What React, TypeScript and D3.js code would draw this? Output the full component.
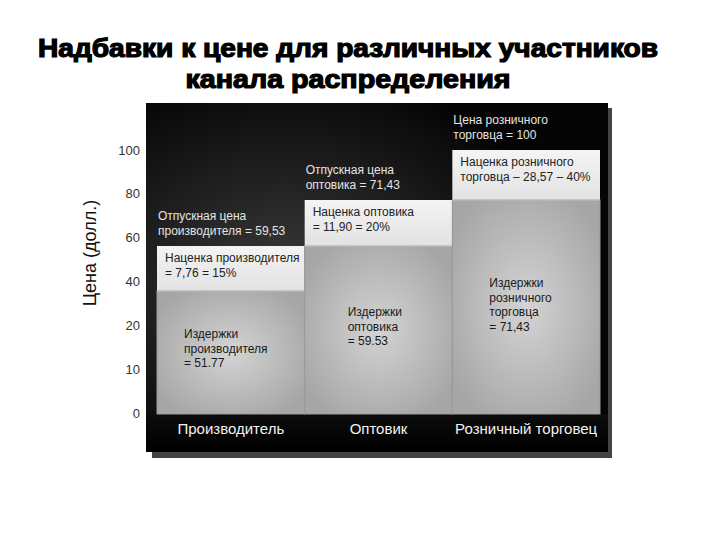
import React from 'react';
import * as d3 from 'd3';

// chart data
const participants = ['Производитель', 'Оптовик', 'Розничный торговец'];
const costs = [51.77, 59.53, 71.43];
const markups = [7.76, 11.90, 28.57];
const yTickLabels = ['100', '80', '60', '40', '20', '10', '0'];

const costText = [
    ['Издержки', 'производителя', '= 51.77'],
    ['Издержки', 'оптовика', '= 59.53'],
    ['Издержки', 'розничного', 'торговца', '= 71,43'],
];
const markupText = [
    ['Наценка производителя', '= 7,76 = 15%'],
    ['Наценка оптовика', '= 11,90 = 20%'],
    ['Наценка розничного', 'торговца – 28,57 – 40%'],
];
const priceText = [
    ['Отпускная цена', 'производителя = 59,53'],
    ['Отпускная цена', 'оптовика = 71,43'],
    ['Цена розничного', 'торговца = 100'],
];

const svgWidth = 720;
const svgHeight = 540;
const font = "'Liberation Sans', Arial, sans-serif";

// the original is a schematic, bars are not to scale: piecewise scale through the drawn levels
const totals = costs.map((c, i) => c + markups[i]);
const yScale = d3.scaleLinear()
    .domain([0, costs[0], totals[0], totals[1], 100])
    .range([414, 291, 246, 200, 150]);

const xScale = d3.scaleBand().domain(participants).range([157, 600]).padding(0);
const tickScale = d3.scalePoint().domain(yTickLabels).range([150, 413]);

const lineH = 14.5;

const App = () => {
    const bw = xScale.bandwidth();
    return (
        <svg width={svgWidth} height={svgHeight} style={{ display: 'block', position: 'absolute', left: 0, top: 0 }}>
            <defs>
                <radialGradient id="panelGrad" cx="0.3" cy="0.5" r="0.6">
                    <stop offset="0" stopColor="#3a3a3a" />
                    <stop offset="1" stopColor="#050505" />
                </radialGradient>
                <radialGradient id="costGrad" cx="0.5" cy="0.5" r="0.6">
                    <stop offset="0" stopColor="#d4d4d4" />
                    <stop offset="1" stopColor="#a6a6a6" />
                </radialGradient>
                <linearGradient id="markGrad" x1="0" y1="0" x2="0" y2="1">
                    <stop offset="0" stopColor="#f4f4f4" />
                    <stop offset="1" stopColor="#e2e2e2" />
                </linearGradient>
                <linearGradient id="bottomGrad" x1="0" y1="0" x2="0" y2="1">
                    <stop offset="0" stopColor="#0c0c0c" />
                    <stop offset="1" stopColor="#000" />
                </linearGradient>
            </defs>
            <rect width={svgWidth} height={svgHeight} fill="#fff" />

            {/* title */}
            <g fontFamily={font} fontWeight="bold" fontSize={25} fill="#000" stroke="#000" strokeWidth={1.2} textAnchor="middle">
                <text x={348} y={57} textLength={620} lengthAdjust="spacingAndGlyphs">Надбавки к цене для различных участников</text>
                <text x={348} y={88} textLength={325} lengthAdjust="spacingAndGlyphs">канала распределения</text>
            </g>

            {/* panel with shadow */}
            <rect x={152} y={108} width={460} height={350} fill="#444" />
            <rect x={146} y={103} width={462} height={349} fill="url(#panelGrad)" />
            <rect x={146} y={414} width={462} height={38} fill="url(#bottomGrad)" />

            {/* y axis labels */}
            <g fontFamily={font} fontSize={13} fill="#333" textAnchor="end">
                {yTickLabels.map(t => (
                    <text key={t} x={140} y={tickScale(t)} dy="0.35em">{t}</text>
                ))}
            </g>
            <text transform={`translate(96,253) rotate(-90)`} textAnchor="middle" fontFamily={font} fontSize={18} fill="#111">Цена (долл.)</text>

            {/* bars */}
            {participants.map((p, i) => {
                const x0 = xScale(p);
                const yc = yScale(costs[i]);
                const yt = yScale(totals[i]);
                return (
                    <g key={p}>
                        <rect x={x0} y={yc} width={bw} height={yScale(0) - yc} fill="url(#costGrad)" stroke="#9a9a9a" strokeWidth={1} />
                        <rect x={x0} y={yt} width={bw} height={yc - yt} fill="url(#markGrad)" />
                        <line x1={x0} x2={x0 + bw} y1={yc} y2={yc} stroke="#bbb" strokeWidth={1.5} />
                    </g>
                );
            })}

            {/* texts */}
            <g fontFamily={font} fontSize={12}>
                {participants.map((p, i) => {
                    const x0 = xScale(p);
                    const yc = yScale(costs[i]);
                    const yt = yScale(totals[i]);
                    const costX = [27, 43, 37][i];
                    const costY = [47, 70, 87][i];
                    return (
                        <g key={p}>
                            {priceText[i].map((s, k) => (
                                <text key={'p' + k} x={x0 + 1} y={yt - 26 + k * lineH} fill="#e4e4e4">{s}</text>
                            ))}
                            {markupText[i].map((s, k) => (
                                <text key={'m' + k} x={x0 + 8} y={yt + 16 + k * lineH} fill="#222">{s}</text>
                            ))}
                            {costText[i].map((s, k) => (
                                <text key={'c' + k} x={x0 + costX} y={yc + costY + k * lineH} fill="#1a1a1a">{s}</text>
                            ))}
                            <text x={x0 + bw / 2} y={434} textAnchor="middle" fontSize={15} fill="#f2f2f2">{p}</text>
                        </g>
                    );
                })}
            </g>
        </svg>
    );
};

export default App;
